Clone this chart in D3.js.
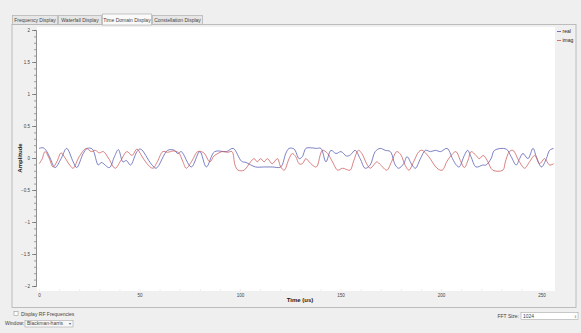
<!DOCTYPE html>
<html>
<head>
<meta charset="utf-8">
<script src="https://cdn.jsdelivr.net/npm/d3@7"></script>
<style>
  html, body { margin: 0; padding: 0; background: #efefef; }
  svg { display: block; font-family: "Liberation Sans", "DejaVu Sans", sans-serif; }
</style>
</head>
<body>
<script>
// Data
const tabs = ["Frequency Display", "Waterfall Display", "Time Domain Display", "Constellation Display"]
const activeTab = 2
const seriesNames = ["real", "imag"]
const seriesColors = ["#4a4fb0", "#cc5050"]

const realTime = [0, 2, 3.5, 5.5, 8, 11, 13.75, 17, 18.75, 22, 24, 26.5, 29.5, 31, 35, 37.5, 39.5, 41.75, 43.5, 45.5, 48.75,
  50.5, 55.75, 58.25, 64, 67.4, 69, 70.75, 75.75, 80, 83.25, 87.4, 93.25, 96.6, 100.75, 103, 107.75, 112, 116, 120.25,
  122.75, 124.4, 126.9, 129.4, 131, 132.75, 135, 138, 140.25, 142.75, 145.25, 147.75, 150.25, 153, 155, 157.25, 159.75,
  162.25, 164.75, 167.25, 169.75, 172.25, 174.75, 177.25, 178.9, 181.4, 183.1, 185.6, 187.25, 189.75, 192.25, 194.75,
  197.25, 199.75, 203, 205.7, 207.6, 209, 211.6, 213.25, 214.9, 217.4, 220.75, 222.4, 224.9, 226.6, 232.4, 234.9, 237.4,
  239.1, 240.75, 243.25, 245.75, 247.4, 250, 252.4, 254, 256]
const realValues = [0.15, 0.16, 0.12, 0.0, -0.15, -0.01, 0.15, -0.06, -0.15, 0.07, 0.15, 0.14, -0.11, -0.07, -0.15, 0.02, 0.13, -0.06, -0.04, -0.11, 0.10,
  0.14, -0.09, -0.16, 0.12, 0.12, 0.07, 0.10, -0.14, 0.10, -0.14, 0.10, 0.10, 0.15, -0.05, -0.07, -0.14, -0.14, -0.14, -0.14,
  0.07, 0.15, 0.14, -0.01, 0.02, 0.15, 0.16, 0.15, 0.15, -0.06, 0.12, 0.07, 0.10, 0.03, 0.05, 0.12, -0.01,
  -0.16, -0.11, 0.10, 0.15, 0.12, 0.10, -0.11, -0.16, -0.09, 0.02, -0.11, -0.16, -0.01, 0.12, 0.10,
  0.12, 0.10, 0.15, -0.01, -0.11, -0.14, 0.04, 0.12, 0.02, -0.14, -0.11, -0.11, -0.01, 0.12, 0.14, 0.02, -0.11,
  -0.01, 0.07, -0.01, 0.15, 0.02, -0.14, -0.01, 0.12, 0.15]

const imagTime = [0, 1.5, 3, 5, 7, 9, 11, 13, 15.5, 17, 20, 23.5, 26, 28, 30, 32, 34.5, 37.9, 40.5, 43.75, 46.25, 48.75,
  50.75, 53.5, 56.6, 59, 61.6, 64, 67, 69.5, 71.5, 73.25, 76, 79, 82, 85, 87, 89, 91, 94, 96, 97.5, 99, 102,
  105.25, 107, 108.6, 110.25, 112, 113.6, 116, 118.6, 120.25, 122, 124.4, 126, 127.75, 129.4, 131, 132.75, 134.4, 136,
  138, 141, 143.6, 146, 148.6, 151, 154.75, 156.4, 158.9, 160.6, 163, 164.75, 166.5, 168, 170, 173, 175.5, 178, 180,
  182.25, 184, 186.5, 189, 190.6, 193.9, 198, 200.6, 203, 205.6, 207.4, 209.9, 211.6, 213.5, 215, 217.4, 219, 221,
  223, 225.75, 230.75, 232, 234, 235.75, 239, 241.6, 244, 246.6, 249, 251.5, 254, 256]
const imagValues = [-0.09, -0.02, 0.10, 0.0, -0.14, -0.05, 0.08, 0.0, -0.12, -0.16, 0.02, 0.15, 0.10, 0.12, 0.08, 0.10, 0.0, -0.16, -0.05, 0.10, 0.04, 0.14,
  0.05, -0.08, -0.16, -0.05, 0.10, 0.09, 0.11, 0.08, -0.05, -0.16, -0.05, 0.10, 0.08, -0.06, 0.03, 0.07, 0.10, 0.09, 0.10, -0.11, -0.19, -0.19,
  -0.06, -0.01, -0.06, -0.01, -0.06, -0.01, -0.09, -0.01, -0.14, -0.19, -0.01, 0.07, 0.02, -0.09, -0.09, -0.01, -0.06, -0.11,
  -0.14, 0.12, 0.07, -0.06, -0.19, -0.16, -0.19, -0.06, 0.12, 0.07, -0.09, -0.16, -0.11, -0.06, -0.11, -0.19, -0.05, 0.10, 0.05,
  -0.12, -0.19, -0.05, 0.10, 0.12, 0.02, -0.16, -0.19, -0.05, 0.06, 0.10, -0.06, -0.15, -0.03, 0.10, 0.04, -0.01, 0.04,
  -0.04, -0.19, -0.19, -0.06, 0.10, 0.12, -0.06, -0.16, -0.06, 0.04, -0.09, -0.01, -0.11, -0.09]

const yTicks = [-2, -1.5, -1, -0.5, 0, 0.5, 1, 1.5, 2]
const xTicks = [0, 50, 100, 150, 200, 250]
const windowName = "Blackman-harris"
const fftSize = "1024"

// Create SVG
const width = 581, height = 333
const svg = d3.select("body").append("svg")
  .attr("width", width)
  .attr("height", height)

const textColor = "#444"

// Tabs
const tabX = [12, 58, 102, 152, 203]
svg.append("rect")
  .attr("x", 12).attr("y", 24.5).attr("width", 564).attr("height", 283)
  .attr("fill", "#f0f0f0").attr("stroke", "#b0b0b0").attr("stroke-width", 0.8)
tabs.forEach((name, i) => {
  const on = i === activeTab
  svg.append("rect")
    .attr("x", tabX[i] + 0.5).attr("y", on ? 14 : 15.5)
    .attr("width", tabX[i + 1] - tabX[i] - 1).attr("height", on ? 11 : 9)
    .attr("fill", on ? "#fafafa" : "#e6e6e6").attr("stroke", "#b0b0b0").attr("stroke-width", 0.7)
  svg.append("text")
    .attr("x", (tabX[i] + tabX[i + 1]) / 2).attr("y", 21.5)
    .attr("text-anchor", "middle")
    .style("font-size", "5px").attr("fill", textColor)
    .text(name)
})

// Plot area
const plot = { left: 37, top: 27, right: 555, bottom: 291 }
svg.append("rect")
  .attr("x", plot.left).attr("y", plot.top)
  .attr("width", plot.right - plot.left).attr("height", plot.bottom - plot.top)
  .attr("fill", "#fff")

// Scales
const x = d3.scaleLinear().domain([0, 256]).range([39, 553.6])
const y = d3.scaleLinear().domain([-2, 2]).range([286, 30])

// Configure Y axis
svg.append("g")
  .attr("transform", "translate(36,0)")
  .call(d3.axisLeft(y).tickValues(d3.range(-2, 2.001, 0.1)).tickSize(2).tickFormat(""))
  .call(g => g.select(".domain").attr("stroke", "#666").attr("stroke-width", 0.7))
  .call(g => g.selectAll(".tick line").attr("stroke", "#666").attr("stroke-width", 0.6))
svg.append("g")
  .attr("transform", "translate(36,0)")
  .call(d3.axisLeft(y).tickValues(yTicks).tickSize(4).tickPadding(2).tickFormat(d3.format("")))
  .call(g => g.select(".domain").remove())
  .call(g => g.selectAll(".tick line").attr("stroke", "#666").attr("stroke-width", 0.7))
  .selectAll("text")
  .style("font-size", "4.5px")
  .attr("fill", textColor)

// Configure X axis
svg.append("g")
  .attr("transform", `translate(0,${plot.bottom})`)
  .call(d3.axisTop(x).tickValues(d3.range(0, 256, 10)).tickSize(2).tickFormat(""))
  .call(g => g.select(".domain").remove())
  .call(g => g.selectAll(".tick line").attr("stroke", "#e0e0e0").attr("stroke-width", 0.6))
svg.append("g")
  .attr("transform", `translate(0,${plot.bottom})`)
  .call(d3.axisBottom(x).tickValues(xTicks).tickSize(0).tickPadding(3))
  .call(g => g.select(".domain").remove())
  .selectAll("text")
  .style("font-size", "4.5px")
  .attr("fill", textColor)

// Axis titles
svg.append("text")
  .attr("transform", `translate(22,${y(0)}) rotate(-90)`)
  .attr("text-anchor", "middle")
  .attr("font-weight", "bold")
  .style("font-size", "6px")
  .attr("fill", "#222")
  .text("Amplitude")
svg.append("text")
  .attr("x", 300).attr("y", 302)
  .attr("text-anchor", "middle")
  .attr("font-weight", "bold")
  .style("font-size", "6px")
  .attr("fill", "#222")
  .text("Time (us)")

// Render series
const line = d3.line().curve(d3.curveCatmullRom.alpha(0.5)).x(d => x(d[0])).y(d => y(d[1]))
const series = [
  realTime.map((t, i) => [t, realValues[i]]),
  imagTime.map((t, i) => [t, imagValues[i]]),
]
series.forEach((D, i) => {
  svg.append("path")
    .datum(D)
    .attr("d", line)
    .attr("fill", "none")
    .attr("stroke", seriesColors[i])
    .attr("stroke-width", 0.9)
    .attr("stroke-opacity", 0.8)
})

// Set legend
seriesNames.forEach((name, i) => {
  const ly = 33 + i * 9
  svg.append("line")
    .attr("x1", 557).attr("x2", 561).attr("y1", ly - 1.5).attr("y2", ly - 1.5)
    .attr("stroke", seriesColors[i]).attr("stroke-width", 0.8)
  svg.append("text")
    .attr("x", 562.5).attr("y", ly)
    .style("font-size", "5px")
    .attr("fill", "#222")
    .text(name)
})

// Bottom controls
svg.append("rect")
  .attr("x", 14).attr("y", 311.5).attr("width", 4).attr("height", 4)
  .attr("fill", "#fff").attr("stroke", "#888").attr("stroke-width", 0.5)
svg.append("text")
  .attr("x", 21).attr("y", 315.5)
  .style("font-size", "5px").attr("fill", textColor)
  .text("Display RF Frequencies")
svg.append("text")
  .attr("x", 5).attr("y", 325)
  .style("font-size", "5px").attr("fill", textColor)
  .text("Window:")
svg.append("rect")
  .attr("x", 25).attr("y", 320.5).attr("width", 48).attr("height", 6.5)
  .attr("fill", "#f7f7f7").attr("stroke", "#999").attr("stroke-width", 0.5)
svg.append("text")
  .attr("x", 27).attr("y", 325.3)
  .style("font-size", "5px").attr("fill", textColor)
  .text(windowName)
svg.append("text")
  .attr("x", 69).attr("y", 325.3)
  .style("font-size", "4px").attr("fill", "#555")
  .text("▾")
svg.append("text")
  .attr("x", 519).attr("y", 317.5)
  .attr("text-anchor", "end")
  .style("font-size", "5px").attr("fill", textColor)
  .text("FFT Size:")
svg.append("rect")
  .attr("x", 521).attr("y", 312.5).attr("width", 57).attr("height", 7)
  .attr("fill", "#fff").attr("stroke", "#999").attr("stroke-width", 0.5)
svg.append("text")
  .attr("x", 523).attr("y", 317.7)
  .style("font-size", "5px").attr("fill", textColor)
  .text(fftSize)
svg.append("text")
  .attr("x", 574).attr("y", 317.5)
  .style("font-size", "3.5px").attr("fill", "#555")
  .text("⇕")
</script>
</body>
</html>
